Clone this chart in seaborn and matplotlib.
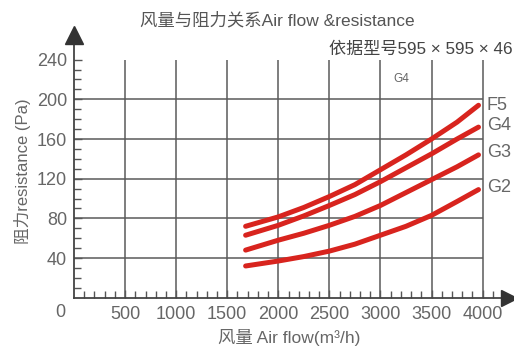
import matplotlib
matplotlib.use("Agg")
import matplotlib.pyplot as plt
import seaborn as sns
import pandas as pd

# values
airflow = [1680, 2000, 2250, 2500, 2750, 3000, 3250, 3500, 3750, 3960]
f5 = [72, 81.5, 91, 102, 114, 129, 144, 160, 177, 194]
g4 = [63, 73, 82.5, 93, 104, 117, 131, 145, 160, 172]
g3 = [48, 58, 65, 73, 82, 93, 106, 119, 132, 144]
g2 = [32, 37, 41.5, 47, 54, 63, 72, 83, 97, 109]
grades = ["F5", "G4", "G3", "G2"]
x_ticks = [500, 1000, 1500, 2000, 2500, 3000, 3500, 4000]
y_ticks = [40, 80, 120, 160, 200, 240]

rows = []
for name, vals in zip(grades, [f5, g4, g3, g2]):
    for x, y in zip(airflow, vals):
        rows.append({"airflow": x, "resistance": y, "grade": name})
df = pd.DataFrame(rows)

sns.set_style("white")
plt.rcParams["font.family"] = ["Liberation Sans", "Noto Sans CJK SC", "DejaVu Sans"]

red = "#d8241e"
grid_c = "#5a5a5a"
txt_c = "#666666"

fig = plt.figure(figsize=(5.14, 3.47), dpi=100)
ax = fig.add_axes([0.144, 0.142, 0.8386, 0.729])

# grid
ax.vlines(x_ticks, 0, 240, color=grid_c, lw=1.1, zorder=1)
ax.hlines(y_ticks[:-1], 0, 4000, color=grid_c, lw=1.1, zorder=1)

sns.lineplot(data=df, x="airflow", y="resistance", hue="grade",
             palette=[red] * 4, lw=3.6, legend=False, ax=ax, zorder=3)

ax.set_xlim(0, 4220)
ax.set_ylim(0, 255)

for s in ["top", "right"]:
    ax.spines[s].set_visible(False)
for s in ["left", "bottom"]:
    ax.spines[s].set_color("#444444")
    ax.spines[s].set_linewidth(1.3)

ax.set_xticks(x_ticks)
ax.set_xticklabels([str(t) for t in x_ticks])
ax.set_yticks(y_ticks)
ax.set_xticks(range(100, 4200, 100), minor=True)
ax.set_yticks(range(10, 250, 10), minor=True)
ax.tick_params(axis="both", which="both", direction="in", color="#555555",
               bottom=True, left=True, top=False, right=False,
               width=1.0, labelsize=13, labelcolor=txt_c)
ax.tick_params(axis="both", which="major", length=6)
ax.tick_params(axis="both", which="minor", length=5)
ax.tick_params(axis="x", pad=6)
ax.tick_params(axis="y", pad=5)
ax.text(-130, -15, "0", ha="center", va="center", fontsize=13, color=txt_c,
        clip_on=False)

# arrows
ax.plot(0, 265, marker="^", ms=13, color="#333333", clip_on=False, zorder=5)
ax.plot(4258, 0, marker=">", ms=11, color="#333333", clip_on=False, zorder=5)

# curve labels
label_y = [194, 174, 146, 111]
for name, yy in zip(grades, label_y):
    ax.text(4040, yy, name, ha="left", va="center", fontsize=13, color=txt_c)
ax.text(3200, 220, "G4", ha="center", va="center", fontsize=8.5, color=txt_c)

ax.set_xlabel("风量 Air flow(m³/h)", fontsize=12.5, color=txt_c, labelpad=4)
ax.set_ylabel("阻力resistance (Pa)", fontsize=12, color=txt_c, labelpad=4)

fig.text(0.54, 0.942, "风量与阻力关系Air flow &resistance", ha="center",
         va="center", fontsize=12.5, color="#555555")
fig.text(0.997, 0.859, "依据型号595 × 595 × 46", ha="right", va="center",
         fontsize=12.3, color="#444444")

fig.savefig("out.png", dpi=100)
